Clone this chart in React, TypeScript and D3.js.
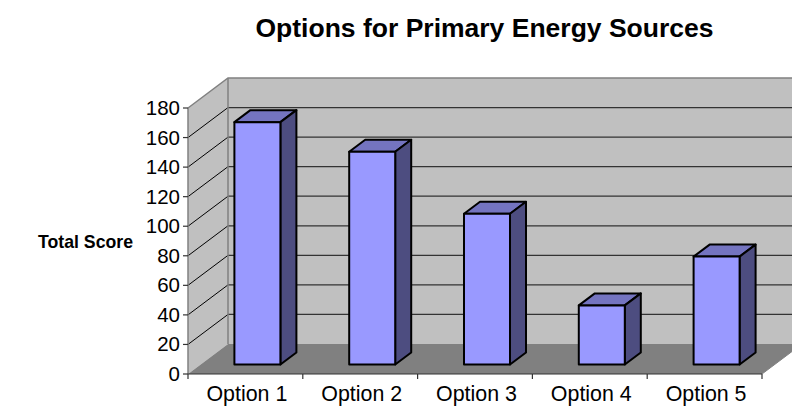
import React from "react";
import * as d3 from "d3";

const categories = ["Option 1", "Option 2", "Option 3", "Option 4", "Option 5"];
const scores = [164, 144, 102, 40, 73];
const yTicks = [0, 20, 40, 60, 80, 100, 120, 140, 160, 180];

const W = 792, H = 406;
const font = "Liberation Sans, Arial, sans-serif";
const x0 = 188, x1 = 762, yB = 374, yT = 108;
const dx = 40, dy = -30;
const bdx = 16, bdy = -12;   // bar depth
const boffx = 12, boffy = -9.5; // bar placement into the floor

const y = d3.scaleLinear().domain([0, 180]).range([yB, yT]);
const x = d3.scaleBand<string>().domain(categories).range([x0, x1]);
const barW = 46;
const poly = (p: number[][]) => d3.line()(p as [number, number][]) + "Z";

export default function App() {
  return (
    <svg width={W} height={H} viewBox={`0 0 ${W} ${H}`} style={{ position: "absolute", left: 0, top: 0, fontFamily: font }}>
      <rect width={W} height={H} fill="#fff" />
      <text x={484.5} y={37} textAnchor="middle" fontSize={26.5} fontWeight="bold" fill="#000">Options for Primary Energy Sources</text>
      <text x={133} y={248} textAnchor="end" fontSize={17.7} fontWeight="bold" fill="#000">Total Score</text>

      {/* back wall */}
      <path d={poly([[x0 + dx, yT + dy], [x1 + dx, yT + dy], [x1 + dx, yB + dy], [x0 + dx, yB + dy]])} fill="#c0c0c0" />
      {/* side wall */}
      <path d={poly([[x0, yT], [x0 + dx, yT + dy], [x0 + dx, yB + dy], [x0, yB]])} fill="#c0c0c0" />
      {/* floor */}
      <path d={poly([[x0, yB], [x0 + dx, yB + dy], [x1 + dx, yB + dy], [x1, yB]])} fill="#808080" />

      {/* gridlines */}
      {yTicks.slice(1, -1).map((t) => (
        <g key={t}>
          <line x1={x0} y1={y(t)} x2={x0 + dx} y2={y(t) + dy} stroke="#000" strokeWidth={1} />
          <line x1={x0 + dx} y1={y(t) + dy} x2={x1 + dx} y2={y(t) + dy} stroke="#333" strokeWidth={1.2} />
        </g>
      ))}

      {/* wall edges */}
      <path d={`M${x0},${yT}L${x0 + dx},${yT + dy}L${W},${yT + dy}`} fill="none" stroke="#808080" strokeWidth={1.5} />
      <line x1={x0 + dx} y1={yT + dy} x2={x0 + dx} y2={yB + dy} stroke="#808080" strokeWidth={1.5} />

      {/* axes */}
      <line x1={x0} y1={yT} x2={x0} y2={yB} stroke="#808080" strokeWidth={1.5} />
      <line x1={x0} y1={yB} x2={x1} y2={yB} stroke="#333" strokeWidth={1.2} />
      <line x1={x1} y1={yB} x2={x1 + dx} y2={yB + dy} stroke="#808080" strokeWidth={1} />
      {yTicks.map((t) => (
        <g key={t}>
          <line x1={x0 - 5} x2={x0} y1={y(t)} y2={y(t)} stroke="#333" strokeWidth={1.2} />
          <text x={x0 - 8} y={y(t) + 7} textAnchor="end" fontSize={20.5} fill="#000">{t}</text>
        </g>
      ))}
      {[...categories.map((c) => x(c)!), x1].map((v, i) => (
        <line key={i} x1={v} x2={v} y1={yB} y2={yB + 5} stroke="#333" strokeWidth={1.2} />
      ))}
      {categories.map((c) => (
        <text key={c} x={x(c)! + x.bandwidth() / 2 + 1.5} y={401} textAnchor="middle" fontSize={21.4} fill="#000">{c}</text>
      ))}

      {/* bars */}
      {categories.map((c, i) => {
        const l = x(c)! + x.bandwidth() / 2 + boffx - barW / 2;
        const r = l + barW;
        const b = y(0) + boffy;
        const t = y(scores[i]) + boffy;
        return (
          <g key={c} stroke="#000" strokeWidth={2} strokeLinejoin="round">
            <path d={poly([[l, t], [l + bdx, t + bdy], [r + bdx, t + bdy], [r, t]])} fill="#7474c0" />
            <path d={poly([[r, t], [r + bdx, t + bdy], [r + bdx, b + bdy], [r, b]])} fill="#4d4d80" />
            <rect x={l} y={t} width={barW} height={b - t} fill="#9999ff" />
          </g>
        );
      })}
    </svg>
  );
}
